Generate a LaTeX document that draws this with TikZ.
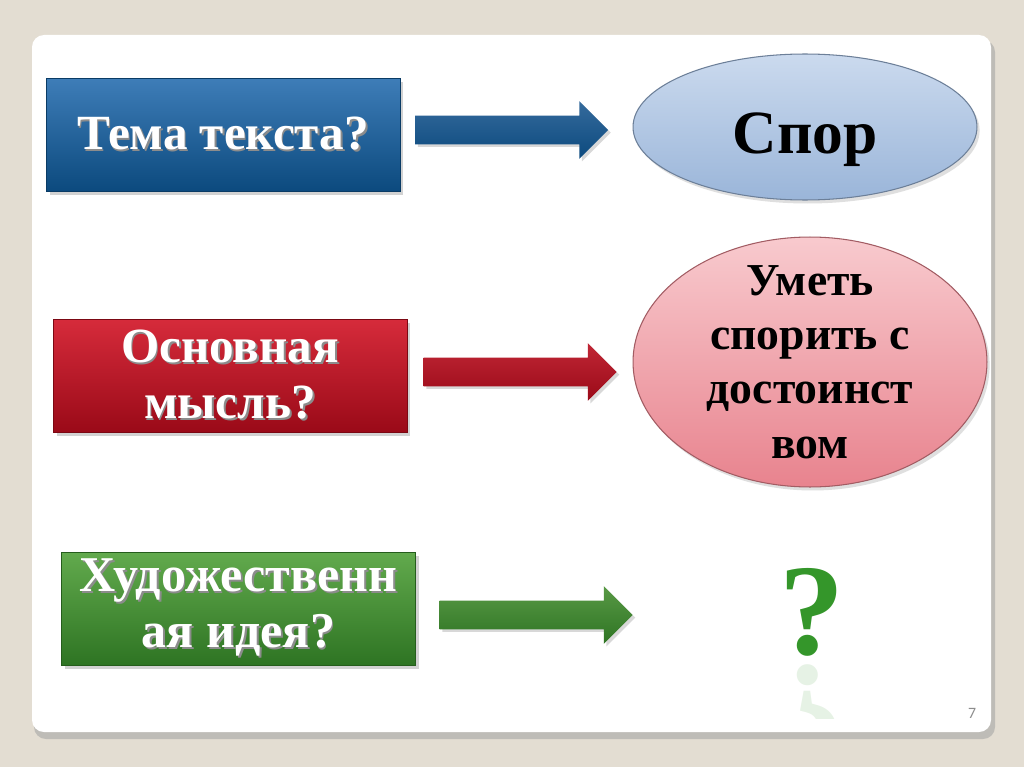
\documentclass[tikz,border=0pt]{standalone}
\usepackage{fontspec}
\setmainfont{Liberation Serif}
\newfontfamily\pagefont{Carlito}
\usetikzlibrary{shapes.geometric, shapes.arrows, shadows}

\definecolor{pagebg}{HTML}{E3DDD2}
\definecolor{blueT}{HTML}{3E7DB8}
\definecolor{blueB}{HTML}{0C4A7E}
\definecolor{redT}{HTML}{D62B3B}
\definecolor{redB}{HTML}{9A0A18}
\definecolor{greenT}{HTML}{62AA4D}
\definecolor{greenB}{HTML}{2E7423}
\definecolor{ovalBlueT}{HTML}{CBDAEE}
\definecolor{ovalBlueB}{HTML}{9AB5D9}
\definecolor{ovalRedT}{HTML}{F8CACE}
\definecolor{ovalRedB}{HTML}{E8838E}
\definecolor{qgreen}{HTML}{34962A}

% white text with a soft dark shadow
\newcommand\shtext[1]{\leavevmode\rlap{\kern1pt\raisebox{-1pt}{\textcolor{black!45}{#1}}}#1}

\tikzset{
  qbox/.style 2 args={top color=#1, bottom color=#2, draw=#2!80!black, line width=0.4pt,
    minimum width=7.08cm, minimum height=2.26cm, align=center, text=white,
    drop shadow={shadow xshift=2pt, shadow yshift=-2pt, opacity=0.35}},
  answer/.style 2 args={ellipse, top color=#1, bottom color=#2, draw=#2!70!black, line width=0.6pt,
    inner sep=0pt, align=center,
    drop shadow={shadow xshift=1.5pt, shadow yshift=-2pt, opacity=0.25}},
  barrow/.style 2 args={single arrow, top color=#1, bottom color=#2, inner xsep=0pt, inner ysep=0.28cm,
    minimum height=3.86cm, single arrow head extend=0.29cm,
    single arrow head indent=0pt,
    drop shadow={shadow xshift=1.5pt, shadow yshift=-1.5pt, opacity=0.3}},
}

\begin{document}
\begin{tikzpicture}[x=0.02cm, y=-0.02cm]
  % slide page
  \fill[pagebg] (0,0) rectangle (1024,767);
  \useasboundingbox (0,0) rectangle (1024,767);
  \fill[black!35, opacity=0.6, rounded corners=0.24cm] (34,40) rectangle (995,739);
  \fill[white, rounded corners=0.24cm] (32,35) rectangle (991,732);

  % questions
  \node[qbox={blueT}{blueB}, font=\bfseries\fontsize{28}{32}\selectfont] (tema) at (223,134.5) {\shtext{Тема текста?}};
  \node[qbox={redT}{redB}, font=\bfseries\fontsize{28}{32}\selectfont] (mysl) at (230,375.5) {\shtext{Основная}\\\shtext{мысль?}};
  \node[qbox={greenT}{greenB}, font=\bfseries\fontsize{28.5}{32}\selectfont] (ideya) at (238.5,608.5) {\shtext{Художественн}\\\shtext{ая идея?}};

  % arrows
  \node[barrow={blueT!85!black}{blueB}] (arrA) at (504.5,130) {};
  \node[barrow={redT!90!black}{redB}] (arrB) at (513,372) {};
  \node[barrow={greenT!90!black}{greenB}] (arrC) at (529,615) {};

  % answers
  \node[answer={ovalBlueT}{ovalBlueB}, minimum width=6.88cm, minimum height=2.92cm,
    font=\bfseries\fontsize{35}{40}\selectfont] (spor) at (805,127) {\raisebox{-5pt}[20pt][0pt]{Спор}};
  \node[answer={ovalRedT}{ovalRedB}, minimum width=7.08cm, minimum height=5cm, inner sep=-0.4cm,
    font=\bfseries\fontsize{26}{31}\selectfont] (umet) at (810,362) {Уметь\\спорить с\\достоинст\\вом};
  \node[text=qgreen, font=\bfseries\fontsize{74}{74}\selectfont, inner sep=0pt] (qmark) at (812,612) {?};
  \begin{scope}
    \clip (760,662) rectangle (870,718);
    \node[text=qgreen, opacity=0.12, font=\bfseries\fontsize{74}{74}\selectfont, inner sep=0pt,
      yscale=-1, transform shape] (qshade) at (812,709) {?};
  \end{scope}

  \node[text=black!45, font=\pagefont\fontsize{9}{10}\selectfont] (pnum) at (972,713) {7};
\end{tikzpicture}
\end{document}
